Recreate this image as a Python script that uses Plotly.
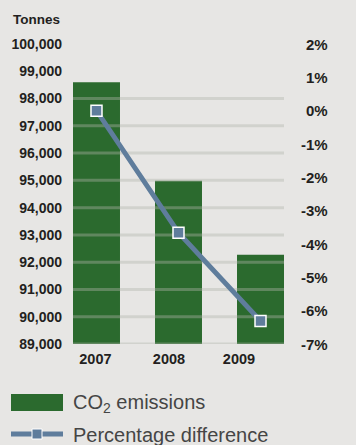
import plotly.graph_objects as go

# CO2 emissions by year (tonnes) and percentage difference vs. 2007
years = ["2007", "2008", "2009"]
emissions = [98600, 94990, 92270]
pct_diff = [0.0, -3.66, -6.31]

left_ticks = list(range(89000, 100001, 1000))
grid_levels = list(range(89000, 98001, 1000))
right_ticks = list(range(-7, 3))

BG = "#e7e6e4"
GREEN = "#2b6a2e"
STEEL = "#5f7d9c"
TEXT = "#231f20"
FONT = "Liberation Sans, Arial, Helvetica, sans-serif"

W, H = 356, 445
ML, MT, MR, MB = 73, 44, 72, 101
PLOT_W = W - ML - MR
PLOT_H = H - MT - MB


def px(x):
    return (x - ML) / PLOT_W


def py(y):
    return (H - MB - y) / PLOT_H


xs = list(range(len(years)))
bar_w = 0.573
x_lo, x_hi = -bar_w / 2, len(years) - 1 + bar_w / 2
label_shift = [-0.013, -0.116, -0.263]

fig = go.Figure()

fig.add_trace(go.Bar(
    x=xs, y=emissions, width=bar_w,
    marker=dict(color=GREEN, line=dict(width=0)),
    hoverinfo="skip", showlegend=False,
))

# horizontal guide lines laid over the bars
gx, gy = [], []
for g in grid_levels:
    gx += [x_lo, x_hi, None]
    gy += [g, g, None]
fig.add_trace(go.Scatter(
    x=gx, y=gy, mode="lines",
    line=dict(color="rgba(178,180,170,0.40)", width=3),
    hoverinfo="skip", showlegend=False,
))

fig.add_trace(go.Scatter(
    x=xs, y=pct_diff, yaxis="y2", mode="lines+markers",
    line=dict(color=STEEL, width=4.8),
    marker=dict(symbol="square", size=11, color=STEEL,
                line=dict(color="white", width=1.5)),
    hoverinfo="skip", showlegend=False,
))

fig.update_layout(
    width=W, height=H,
    margin=dict(l=ML, r=MR, t=MT, b=MB, pad=0),
    paper_bgcolor=BG, plot_bgcolor=BG,
    showlegend=False,
    xaxis=dict(
        range=[x_lo, x_hi],
        tickvals=[x + s for x, s in zip(xs, label_shift)],
        ticktext=years,
        showgrid=False, zeroline=False, showline=False, ticks="",
        ticklabelstandoff=4,
        tickfont=dict(family=FONT, size=14.5, color=TEXT, weight="bold"),
    ),
    yaxis=dict(
        range=[89000, 100000],
        tickvals=left_ticks, tickformat=",",
        showgrid=False, zeroline=False, showline=False, ticks="",
        ticklabelstandoff=10,
        tickfont=dict(family=FONT, size=14, color=TEXT, weight="bold"),
    ),
    yaxis2=dict(
        overlaying="y", side="right",
        range=[-7, 2],
        showticklabels=False,
        showgrid=False, zeroline=False, showline=False, ticks="",
    ),
)

# right-hand percentage scale, right-aligned against the y2 axis values
for t in right_ticks:
    fig.add_annotation(
        text=f"{t}%", xref="paper", yref="y2",
        x=px(330), y=t, xanchor="right", yanchor="middle", showarrow=False,
        font=dict(family=FONT, size=15, color=TEXT, weight="bold"),
    )

fig.add_annotation(
    text="Tonnes", xref="paper", yref="paper",
    x=px(62), y=py(20), xanchor="right", yanchor="middle", showarrow=False,
    font=dict(family=FONT, size=13.5, color=TEXT, weight="bold"),
)

# legend drawn by hand
fig.add_shape(type="rect", xref="paper", yref="paper",
              x0=px(11), x1=px(63), y0=py(411), y1=py(394),
              fillcolor=GREEN, line=dict(width=0))
fig.add_shape(type="line", xref="paper", yref="paper",
              x0=px(11), x1=px(63), y0=py(434), y1=py(434),
              line=dict(color=STEEL, width=4.8))
fig.add_shape(type="rect", xref="paper", yref="paper",
              x0=px(32), x1=px(42), y0=py(439), y1=py(429),
              fillcolor=STEEL, line=dict(color="white", width=1))
fig.add_annotation(
    text="CO<sub>2</sub> emissions", xref="paper", yref="paper",
    x=px(71), y=py(403), xanchor="left", yanchor="middle", showarrow=False,
    font=dict(family=FONT, size=20, color="#454545"),
)
fig.add_annotation(
    text="Percentage difference", xref="paper", yref="paper",
    x=px(71), y=py(435), xanchor="left", yanchor="middle", showarrow=False,
    font=dict(family=FONT, size=20, color="#454545"),
)

fig.write_html("out.html")
